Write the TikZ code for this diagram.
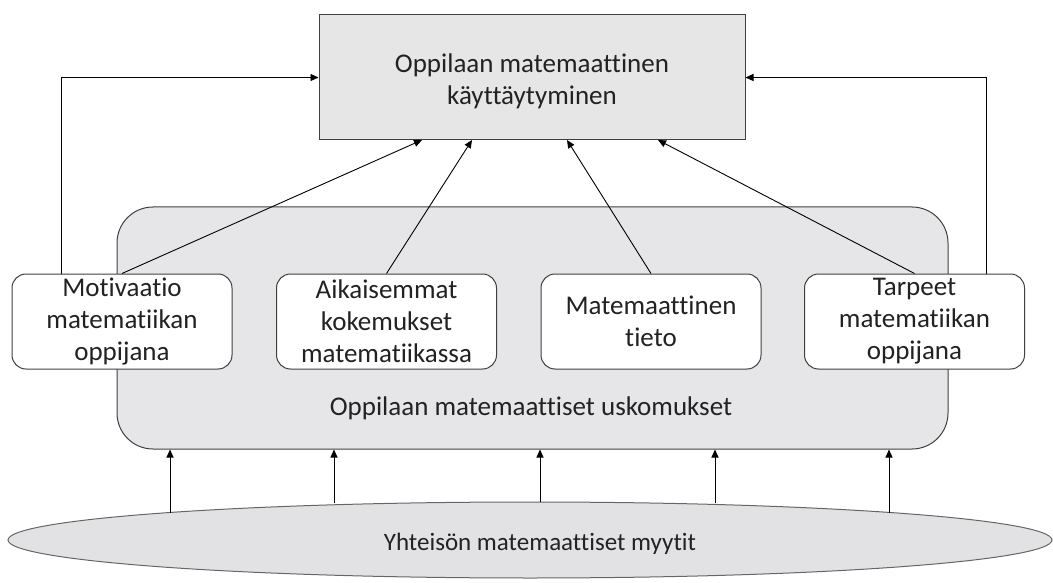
\documentclass[tikz,border=0pt]{standalone}
\usepackage{fontspec}
\setmainfont{Carlito}[Ligatures=NoCommon]
\usetikzlibrary{arrows.meta,shapes.geometric}
\definecolor{boxgray}{HTML}{E7E6E6}
\definecolor{beliefgray}{HTML}{E6E6E8}
\definecolor{mythgray}{HTML}{E2E2E4}
\definecolor{edgegray}{HTML}{404040}
\definecolor{txt}{HTML}{222222}
\tikzset{
  base/.style={font=\fontsize{27}{32}\selectfont, text=txt, align=center, inner sep=0pt},
  topbox/.style={base, draw=edgegray, line width=1pt, fill=boxgray, minimum width=426pt, minimum height=125pt},
  beliefbox/.style={draw=edgegray, line width=1pt, fill=beliefgray, rounded corners=36pt, minimum width=831pt, minimum height=242pt},
  smallbox/.style={base, draw=edgegray, line width=1pt, fill=white, rounded corners=14pt, minimum width=220pt, minimum height=95pt},
  mythshape/.style={ellipse, draw=edgegray!80, line width=1pt, fill=mythgray, minimum width=1044pt, minimum height=76pt, inner sep=0pt},
  conn/.style={draw=black, line width=0.9pt, -{Triangle[length=8pt,width=7pt]}},
}
\begin{document}
\begin{tikzpicture}[x=1pt,y=-1pt]
\useasboundingbox (0,0) rectangle (1053,583);
% main boxes
\node[topbox] (top) at (532,77.5) {};
\node[base] (toplabel) at (532,81) {Oppilaan matemaattinen\\käyttäytyminen};
\node[beliefbox] (belief) at (532.5,328) {};
\node[base] (belieflabel) at (531,408) {Oppilaan matemaattiset uskomukset};
\node[smallbox] (b1) at (122,321.5) {Motivaatio\\matematiikan\\oppijana};
\node[smallbox] (b2) at (386.5,321.5) {Aikaisemmat\\kokemukset\\matematiikassa};
\node[smallbox] (b3) at (651,321.5) {Matemaattinen\\tieto};
\node[smallbox] (b4) at (914.5,321.5) {Tarpeet\\matematiikan\\oppijana};
\node[mythshape] (myth) at (530,540) {};
\node[base, font=\fontsize{25}{30}\selectfont] (mythtext) at (540,544) {Yhteisön matemaattiset myytit};
% coordinates
\coordinate (t1) at (422,140);
\coordinate (t2) at (472,140);
\coordinate (t3) at (567,140);
\coordinate (t4) at (658,140);
\coordinate (l1) at (61,0);
\coordinate (r1) at (986,0);
\coordinate (m1) at (170,513);
\coordinate (m2) at (334,503);
\coordinate (m3) at (540,502);
\coordinate (m4) at (715,503);
\coordinate (m5) at (889,513);
% connectors to top box
\draw[conn] (b1.north -| l1) |- (top.west);
\draw[conn] (b4.north -| r1) |- (top.east);
\draw[conn] (b1.north) -- (t1);
\draw[conn] (b2.north) -- (t2);
\draw[conn] (b3.north) -- (t3);
\draw[conn] (b4.north) -- (t4);
% myths to beliefs
\foreach \m in {m1,m2,m3,m4,m5}
  \draw[conn] (\m) -- (\m |- belief.south);
\end{tikzpicture}
\end{document}
